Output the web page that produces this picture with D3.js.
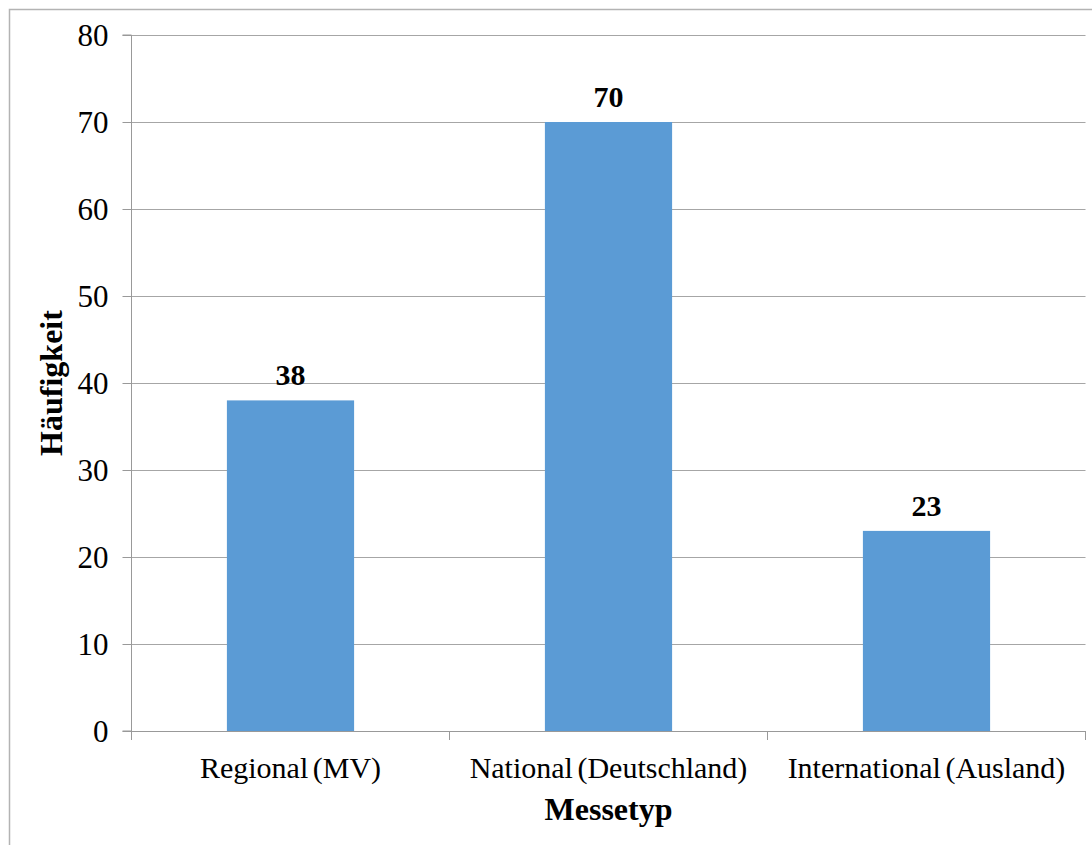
<!DOCTYPE html>
<html><head><meta charset="utf-8">
<script src="https://cdn.jsdelivr.net/npm/d3@7"></script>
<style>body{margin:0;background:#fff}svg{display:block}</style>
</head><body>
<script>
const categories = ["Regional (MV)", "National (Deutschland)", "International (Ausland)"];
const values = [38, 70, 23];
const yTicks = [0, 10, 20, 30, 40, 50, 60, 70, 80];
const xTitle = "Messetyp";
const yTitle = "Häufigkeit";

const W = 1092, H = 845;
const m = {left: 131.5, right: 1085.5, top: 35, bottom: 731};
const font = "'Liberation Serif','Times New Roman',serif";

const svg = d3.select("body").append("svg").attr("width", W).attr("height", H);
svg.append("rect").attr("x", 9.5).attr("y", 9.5).attr("width", W + 20).attr("height", H + 20)
  .attr("fill", "#fff").attr("stroke", "#b3b3b3").attr("stroke-width", 1.5);

const x = d3.scaleBand().domain(categories).range([m.left, m.right]).paddingInner(0.6).paddingOuter(0.3);
const y = d3.scaleLinear().domain([0, 80]).range([m.bottom, m.top]);

// gridlines
svg.append("g").selectAll("line").data(yTicks.filter(d => d > 0)).join("line")
  .attr("x1", m.left).attr("x2", m.right)
  .attr("y1", d => Math.round(y(d)) + 0.5).attr("y2", d => Math.round(y(d)) + 0.5)
  .attr("stroke", "#a6a6a6").attr("stroke-width", 1.2);

// bars
svg.append("g").selectAll("rect").data(values).join("rect")
  .attr("x", (d, i) => x(categories[i])).attr("width", x.bandwidth())
  .attr("y", d => y(d)).attr("height", d => y(0) - y(d))
  .attr("fill", "#5b9bd5");

// data labels
svg.append("g").selectAll("text").data(values).join("text")
  .attr("x", (d, i) => x(categories[i]) + x.bandwidth() / 2)
  .attr("y", d => y(d) - 15)
  .attr("text-anchor", "middle").attr("font-family", font).attr("font-weight", "bold")
  .attr("font-size", 30).text(d => d);

// y axis
const yAxis = d3.axisLeft(y).tickValues(yTicks).tickSize(9).tickPadding(14);
const gy = svg.append("g").attr("transform", `translate(${m.left},0)`).call(yAxis);
gy.select(".domain").attr("stroke", "#999").attr("d", `M-9,${m.top}H0V${m.bottom}H-9`);
gy.selectAll(".tick line").attr("stroke", "#999");
gy.selectAll(".tick text").attr("font-family", font).attr("font-size", 31).attr("fill", "#000").attr("dy", "0.34em");

// x axis
const xb = d3.scaleLinear().domain([0, 3]).range([m.left, m.right]);
const gx = svg.append("g").attr("transform", `translate(0,${m.bottom})`);
gx.append("line").attr("x1", m.left).attr("x2", m.right).attr("y1", 0.5).attr("y2", 0.5).attr("stroke", "#999");
gx.selectAll("line.t").data([0, 1, 2, 3]).join("line").attr("class", "t")
  .attr("x1", d => xb(d)).attr("x2", d => xb(d)).attr("y1", 0).attr("y2", 9).attr("stroke", "#999");
gx.selectAll("text").data(categories).join("text")
  .attr("x", d => x(d) + x.bandwidth() / 2).attr("y", 47)
  .attr("text-anchor", "middle").attr("font-family", font).attr("font-size", 30).attr("fill", "#000")
  .attr("word-spacing", -3)
  .text(d => d);

// titles
svg.append("text").attr("x", (m.left + m.right) / 2).attr("y", 820).attr("text-anchor", "middle")
  .attr("font-family", font).attr("font-weight", "bold").attr("font-size", 32).text(xTitle);
svg.append("text").attr("transform", `translate(62,${(m.top + m.bottom) / 2}) rotate(-90)`)
  .attr("text-anchor", "middle").attr("font-family", font).attr("font-weight", "bold").attr("font-size", 32).text(yTitle);
</script>
</body></html>
